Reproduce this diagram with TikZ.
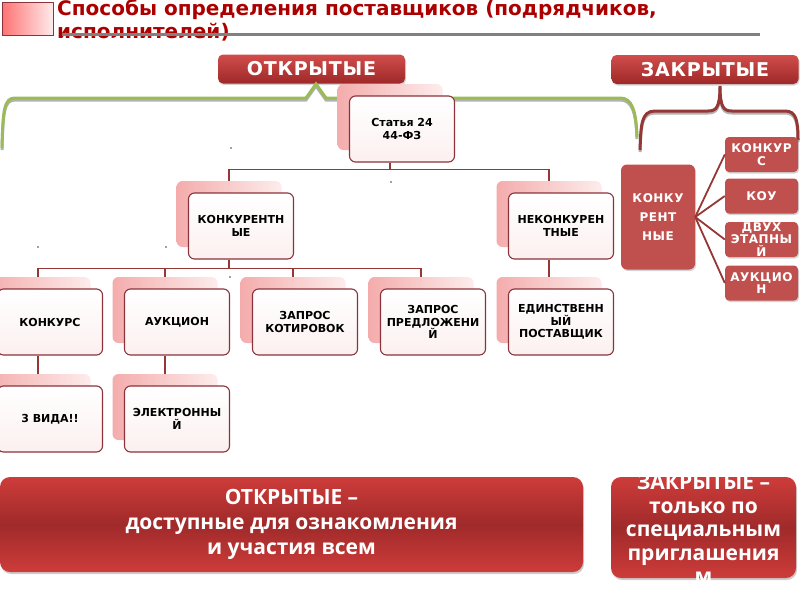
\documentclass[tikz,border=0pt]{standalone}
\usepackage{fontspec}
\setmainfont{DejaVu Sans}
\newfontfamily\spacedfont[LetterSpace=4]{DejaVu Sans}
\newfontfamily\titlefont{DejaVu Sans}
\newfontfamily\widefont{Open Sans}
\usetikzlibrary{shadows}

\definecolor{connred}{RGB}{149,55,53}
\definecolor{boxred}{RGB}{140,50,58}
\definecolor{redbox}{RGB}{192,80,77}
\definecolor{titred}{RGB}{172,0,0}
\definecolor{braceg}{RGB}{155,187,89}
\definecolor{pinkL}{RGB}{244,172,172}
\definecolor{pinkR}{RGB}{253,236,236}
\definecolor{pinkB}{RGB}{252,240,240}
\definecolor{banT}{RGB}{208,78,75}
\definecolor{banB}{RGB}{158,40,40}
\definecolor{bigT}{RGB}{205,60,58}
\definecolor{bigM}{RGB}{160,42,42}

\tikzset{
  shad/.style={rounded corners=6pt, minimum width=105pt, minimum height=66pt, left color=pinkL, right color=pinkR},
  box/.style={rounded corners=6pt, draw=boxred, line width=1.1pt, minimum width=105pt, minimum height=66pt,
    top color=white, bottom color=pinkB, align=center, inner sep=1pt, font=\bfseries\fontsize{11}{12.5}\selectfont},
  banner/.style={rounded corners=5pt, minimum width=187pt, minimum height=29pt, top color=banT, bottom color=banB,
    text=white, font=\spacedfont\bfseries\fontsize{19}{20}\selectfont,
    drop shadow={shadow xshift=1pt, shadow yshift=-1.5pt, opacity=0.35}},
  rbox/.style={rounded corners=4pt, fill=redbox, text=white, align=center, inner sep=0pt,
    minimum width=73pt, minimum height=35pt, font=\spacedfont\bfseries\fontsize{12}{12.5}\selectfont,
    drop shadow={shadow xshift=1pt, shadow yshift=-1.5pt, opacity=0.35}},
  bigbox/.style={rounded corners=10pt, top color=bigT, bottom color=bigT, middle color=bigM,
    drop shadow={shadow xshift=1pt, shadow yshift=-2pt, opacity=0.4}},
  bigtext/.style={text=white, align=center, font=\widefont\bfseries\fontsize{21}{25}\selectfont},
  conn/.style={draw=connred, line width=1.6pt}
}

\begin{document}
\begin{tikzpicture}[x=1pt, y=-1pt, line join=miter]
\useasboundingbox (0,0) rectangle (800,600);

% title
\node[draw=boxred, line width=1pt, minimum width=51pt, minimum height=33pt, left color=red!55!white, middle color=red!75!black, right color=red!8!white] (sq) at (27.5,18.5) {};
\node[anchor=north west, align=left, inner sep=0pt, text=titred, font=\titlefont\bfseries\fontsize{20}{23}\selectfont] (ttl) at (57,-1) {Способы определения поставщиков (подрядчиков,\\исполнителей)};
\draw[line width=3pt, gray] (62,34) -- (760,34);

% banners
\node[banner] (otk) at (311.5,69) {ОТКРЫТЫЕ};
\node[banner] (zak) at (705,69.5) {ЗАКРЫТЫЕ};

% braces
\draw[line width=3pt, gray!60, yshift=-2pt] (2,148) .. controls (3,110) and (4,98) .. (15,98) -- (306,98) -- (316,84) -- (326,98) -- (620,98) .. controls (632,98) and (636,110) .. (637,137);
\draw[line width=3pt, braceg] (2,148) .. controls (3,110) and (4,98) .. (15,98) -- (306,98) -- (316,84) -- (326,98) -- (620,98) .. controls (632,98) and (636,110) .. (637,137);
\draw[line width=3pt, gray!60, yshift=-2pt] (640,150) .. controls (641,125) and (641,111) .. (655,111) -- (708,111) .. controls (716,111) and (720,108) .. (720,86) .. controls (720,108) and (724,111) .. (732,111) -- (785,111) .. controls (796,111) and (798,120) .. (798,140);
\draw[line width=3pt, connred] (640,150) .. controls (641,125) and (641,111) .. (655,111) -- (708,111) .. controls (716,111) and (720,108) .. (720,86) .. controls (720,108) and (724,111) .. (732,111) -- (785,111) .. controls (796,111) and (798,120) .. (798,140);

% org chart
\node[shad] (sts) at (390,117) {};
\node[box] (st) at ([shift={(12,12)}]sts) {Статья 24\\44-ФЗ};
\node[shad] (kons) at (229,214) {};
\node[box] (kon) at ([shift={(12,12)}]kons) {КОНКУРЕНТН\\ЫЕ};
\node[shad] (neks) at (549,214) {};
\node[box] (nek) at ([shift={(12,12)}]neks) {НЕКОНКУРЕН\\ТНЫЕ};

\node[shad] (konkurss) at (38,310) {};
\node[box] (konkurs) at ([shift={(12,12)}]konkurss) {КОНКУРС};
\node[shad] (auks) at (165,310) {};
\node[box] (auk) at ([shift={(12,12)}]auks) {АУКЦИОН};
\node[shad] (kots) at (293,310) {};
\node[box] (kot) at ([shift={(12,12)}]kots) {ЗАПРОС\\КОТИРОВОК};
\node[shad] (preds) at (421,310) {};
\node[box] (pred) at ([shift={(12,12)}]preds) {ЗАПРОС\\ПРЕДЛОЖЕНИ\\Й};
\node[shad] (eds) at (549,310) {};
\node[box] (ed) at ([shift={(12,12)}]eds) {ЕДИНСТВЕНН\\ЫЙ\\ПОСТАВЩИК};

\node[shad] (vids) at (38,407) {};
\node[box] (vid) at ([shift={(12,12)}]vids) {3 ВИДА!!};
\node[shad] (els) at (165,407) {};
\node[box] (el) at ([shift={(12,12)}]els) {ЭЛЕКТРОННЫ\\Й};

\draw[conn] (st.south -| sts.center) -- ++(0,7) -| (kons.north);
\draw[conn] (st.south -| sts.center) -- ++(0,7) -| (neks.north);
\draw[conn] (kon.south -| kons.center) -- ++(0,9) -| (konkurss.north);
\draw[conn] (kon.south -| kons.center) -- ++(0,9) -| (auks.north);
\draw[conn] (kon.south -| kons.center) -- ++(0,9) -| (kots.north);
\draw[conn] (kon.south -| kons.center) -- ++(0,9) -| (preds.north);
\draw[conn] (nek.south -| neks.center) -- (eds.north);
\draw[conn] (konkurs.south -| konkurss.center) -- (vids.north);
\draw[conn] (auk.south -| auks.center) -- (els.north);

% stray dots
\foreach \p in {(231,148),(391,182),(38,247),(166,247),(230,277)}
  \fill[gray!50!black] \p circle (0.9pt);

% closed ones
\node[rbox, minimum width=74pt, minimum height=105pt, rounded corners=6pt, font=\spacedfont\bfseries\fontsize{12}{19}\selectfont] (zk) at (658,217) {КОНКУ\\РЕНТ\\НЫЕ};
\node[rbox] (k1) at (761.5,154.5) {КОНКУР\\С};
\node[rbox] (k2) at (761.5,196) {КОУ};
\node[rbox] (k3) at (761.5,239.5) {ДВУХ\\ЭТАПНЫ\\Й};
\node[rbox] (k4) at (761.5,283) {АУКЦИО\\Н};
\foreach \k in {k1,k2,k3,k4}
  \draw[conn, line width=1.8pt] (zk.east) -- (\k.west);

% bottom
\node[bigbox, minimum width=583pt, minimum height=95pt, bigtext] (opn) at (291.5,524.5) {ОТКРЫТЫЕ –\\доступные для ознакомления\\и участия всем};
\node[bigbox, minimum width=185pt, minimum height=101pt] (cls) at (703.5,527.5) {};
\node[bigtext, font=\widefont\bfseries\fontsize{21}{23.5}\selectfont] (clst) at (703.5,529) {ЗАКРЫТЫЕ –\\только по\\специальным\\приглашения\\м};
\end{tikzpicture}
\end{document}
